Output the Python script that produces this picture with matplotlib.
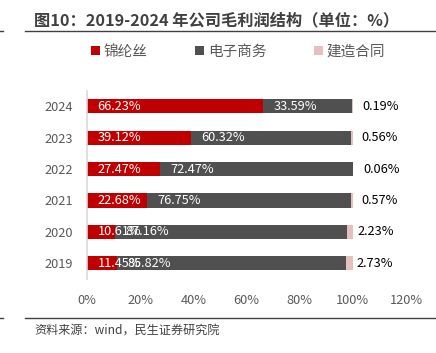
import matplotlib
matplotlib.use("Agg")
import matplotlib.pyplot as plt
from matplotlib.patches import Patch
from matplotlib.lines import Line2D
import numpy as np

plt.rcParams['font.family'] = ['Noto Sans CJK SC', 'DejaVu Sans']

years = ['2019', '2020', '2021', '2022', '2023', '2024']
nylon = [11.45, 10.61, 22.68, 27.47, 39.12, 66.23]
ecommerce = [85.82, 87.16, 76.75, 72.47, 60.32, 33.59]
construction = [2.73, 2.23, 0.57, 0.06, 0.56, 0.19]
series_names = ['锦纶丝', '电子商务', '建造合同']
colors = ['#C00000', '#505050', '#E8BFBF']
label_colors = ['white', 'white', 'black']
xticks = [0, 20, 40, 60, 80, 100, 120]

W, H = 436, 353
fig = plt.figure(figsize=(W / 100, H / 100), dpi=100)

ax_l, ax_r = 87, 406
ax_t, ax_b = 90.6, 279
ax = fig.add_axes([ax_l / W, 1 - ax_b / H, (ax_r - ax_l) / W, (ax_b - ax_t) / H])

y = np.arange(len(years))
left = np.zeros(len(years))
for vals, col, lc, name in zip([nylon, ecommerce, construction], colors, label_colors, series_names):
    vals = np.array(vals)
    ax.barh(y, vals, left=left, height=0.45, color=col, label=name)
    for yi, st, v in zip(y, left, vals):
        ax.annotate(f'{v:.2f}%', xy=(st, yi), xytext=(7.5, 0), textcoords='offset points',
                    ha='left', va='center', color=lc, fontsize=9.2)
    left = left + vals

ax.set_xlim(0, 120)
ax.set_ylim(-0.5, 5.5)
ax.set_xticks(xticks)
ax.set_xticklabels([f'{t}%' for t in xticks])
ax.set_yticks(y)
ax.set_yticklabels(years)
ax.tick_params(axis='both', length=0, colors='#595959', labelsize=9.2)
ax.tick_params(axis='x', pad=10.5)
ax.tick_params(axis='y', pad=10)
for s in ['top', 'right', 'bottom']:
    ax.spines[s].set_visible(False)
ax.spines['left'].set_color('#D9D9D9')
ax.spines['left'].set_linewidth(1.2)

# title and lines
fig.text(34 / W, 1 - 20 / H, '图10：2019-2024 年公司毛利润结构（单位：%）', fontsize=11.7, fontweight='bold',
         color='#404040', ha='left', va='center')
fig.add_artist(Line2D([25 / W, 1], [1 - 31 / H, 1 - 31 / H], color='#404040', lw=1))
fig.add_artist(Line2D([0, 3 / W], [1 - 31 / H, 1 - 31 / H], color='#404040', lw=1))
fig.add_artist(Line2D([25 / W, 1], [1 - 318 / H, 1 - 318 / H], color='#404040', lw=1))
fig.add_artist(Line2D([0, 3 / W], [1 - 318 / H, 1 - 318 / H], color='#404040', lw=1))
fig.text(34 / W, 1 - 331 / H, '资料来源：wind，民生证券研究院', fontsize=8.7, color='#404040',
         ha='left', va='center')

handles = [Patch(facecolor=c, edgecolor='none') for c in colors]
leg = fig.legend(handles, series_names, loc='center left', bbox_to_anchor=(91 / W, 1 - 52 / H),
                 ncol=3, frameon=False, fontsize=10.5, handlelength=0.6, handleheight=0.6,
                 handletextpad=0.25, columnspacing=3.3, borderaxespad=0, borderpad=0)
for t in leg.get_texts():
    t.set_color('#595959')

fig.savefig('out.png', dpi=100)
